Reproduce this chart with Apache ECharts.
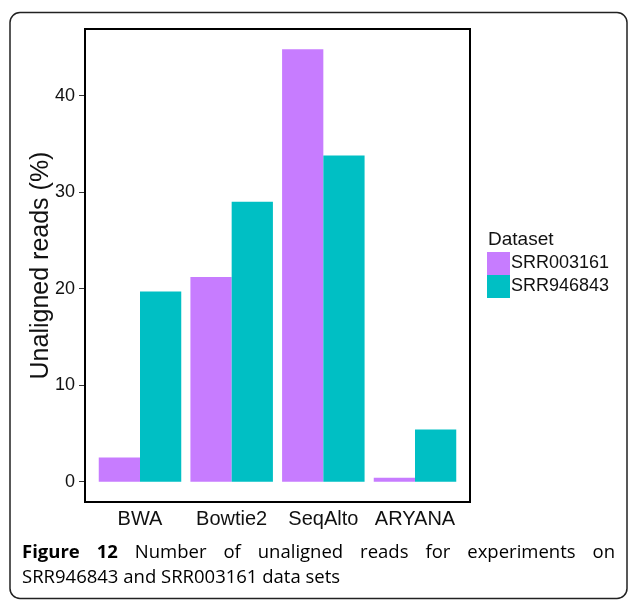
<!DOCTYPE html>
<html>
<head>
<meta charset="utf-8">
<script src="https://cdn.jsdelivr.net/npm/echarts@6/dist/echarts.min.js"></script>
<style>
  html, body { margin: 0; padding: 0; background: #fff; }
  #chart { width: 629px; height: 601px; }
</style>
</head>
<body>
<div id="chart"></div>
<script>
// data
const categories = ['BWA', 'Bowtie2', 'SeqAlto', 'ARYANA'];
const srr003161 = [2.5, 21.2, 44.8, 0.4];
const srr946843 = [19.7, 29.0, 33.8, 5.4];
const yTicks = [0, 10, 20, 30, 40];
const seriesNames = ['SRR003161', 'SRR946843'];
const captionLine1 = ['Figure', '12', 'Number', 'of', 'unaligned', 'reads', 'for', 'experiments', 'on'];
const captionLine2 = 'SRR946843 and SRR003161 data sets';

const chart = echarts.init(document.getElementById('chart'));

// panel frame (ggplot pads discrete axis by 0.6 band, echarts by 0.5,
// so the grid is inset a little inside the drawn frame)
const frame = { left: 85, top: 29, right: 470, bottom: 502 };
const band = (frame.right - frame.left) / 4.2;
const inset = band * 0.1;

// caption line 1 is justified: spread words between left and right edges
const capFont = '"Open Sans", sans-serif';
const capSize = 18.5;
const ctx = document.createElement('canvas').getContext('2d');
function wordWidth(w, bold) {
  ctx.font = (bold ? 'bold ' : '') + capSize + 'px ' + capFont;
  return ctx.measureText(w).width;
}
const capLeft = 22, capRight = 615;
const widths = captionLine1.map((w, i) => wordWidth(w, i < 2));
const total = widths.reduce((a, b) => a + b, 0);
const gap = (capRight - capLeft - total) / (captionLine1.length - 1);
const captionEls = [];
let cx = capLeft;
captionLine1.forEach((w, i) => {
  captionEls.push({
    type: 'text', x: cx, y: 553, style: {
      text: w, font: (i < 2 ? 'bold ' : '') + capSize + 'px ' + capFont,
      fill: '#000', textVerticalAlign: 'middle'
    }
  });
  cx += widths[i] + gap;
});
captionEls.push({
  type: 'text', x: capLeft, y: 578, style: {
    text: captionLine2, font: capSize + 'px ' + capFont,
    fill: '#000', textVerticalAlign: 'middle'
  }
});

const option = {
  animation: false,
  textStyle: { fontFamily: '"Liberation Sans", Arial, sans-serif' },
  grid: {
    left: frame.left + inset, right: 629 - frame.right + inset,
    top: frame.top, bottom: 601 - frame.bottom
  },
  legend: {
    orient: 'vertical',
    left: 487, top: 252,
    padding: 0,
    itemWidth: 23, itemHeight: 23, itemGap: 0,
    icon: 'rect',
    data: seriesNames,
    textStyle: { fontSize: 18, color: '#111', padding: [0, 0, 0, -4] }
  },
  xAxis: {
    type: 'category',
    data: categories,
    axisLine: { show: false },
    axisTick: { alignWithLabel: true, interval: 0, length: 6, lineStyle: { color: '#333' } },
    axisLabel: { fontSize: 20, color: '#111', margin: 7, interval: 0 },
    splitLine: { show: false }
  },
  yAxis: {
    type: 'value',
    min: -2.1, max: 46.9,
    offset: inset,
    name: 'Unaligned reads (%)',
    nameLocation: 'middle',
    nameGap: 31,
    nameMoveOverlap: false,
    nameTextStyle: { fontSize: 25, color: '#111' },
    axisLine: { show: false },
    axisTick: { show: true, length: 6, customValues: yTicks, lineStyle: { color: '#333' } },
    axisLabel: { fontSize: 18, color: '#111', margin: 10, customValues: yTicks },
    splitLine: { show: false }
  },
  series: [
    {
      name: seriesNames[0], type: 'bar', data: srr003161,
      itemStyle: { color: '#C77CFF' },
      barGap: '0%', barCategoryGap: '10%'
    },
    {
      name: seriesNames[1], type: 'bar', data: srr946843,
      itemStyle: { color: '#00BFC4' },
      barGap: '0%', barCategoryGap: '10%'
    }
  ],
  graphic: [
    {
      type: 'rect',
      shape: { x: 10, y: 12.5, width: 617, height: 586, r: 10 },
      style: { fill: 'none', stroke: '#222', lineWidth: 1.5 },
      silent: true
    },
    {
      type: 'rect',
      shape: { x: frame.left, y: frame.top, width: frame.right - frame.left, height: frame.bottom - frame.top },
      style: { fill: 'none', stroke: '#000', lineWidth: 2 },
      silent: true, z: 10
    },
    {
      type: 'text', x: 488, y: 240,
      style: { text: 'Dataset', font: '19px "Liberation Sans", Arial, sans-serif', fill: '#111', textVerticalAlign: 'middle' }
    }
  ].concat(captionEls)
};

chart.setOption(option);
</script>
</body>
</html>
